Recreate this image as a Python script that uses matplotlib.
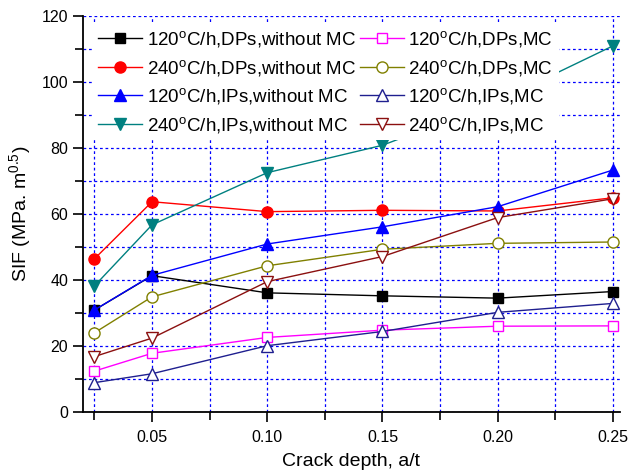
import matplotlib
matplotlib.use("Agg")
import matplotlib.pyplot as plt
from matplotlib.ticker import MultipleLocator

plt.rcParams['font.family'] = ['Liberation Sans', 'DejaVu Sans']
plt.rcParams['mathtext.fontset'] = 'custom'
plt.rcParams['mathtext.rm'] = 'Liberation Sans'
plt.rcParams['mathtext.it'] = 'Liberation Sans:italic'

# crack depth a/t
depth = [0.025, 0.05, 0.10, 0.15, 0.20, 0.25]

dps_120 = [30.8, 41.2, 36.0, 35.1, 34.4, 36.4]
dps_240 = [46.3, 63.6, 60.6, 61.0, 60.8, 64.8]
ips_120 = [30.8, 41.3, 50.8, 56.0, 62.1, 73.2]
ips_240 = [38.1, 56.6, 72.4, 80.7, 94.0, 110.8]
dps_120_mc = [12.3, 17.7, 22.5, 24.7, 25.9, 26.0]
dps_240_mc = [23.9, 34.8, 44.2, 49.2, 51.0, 51.4]
ips_120_mc = [8.8, 11.5, 20.0, 24.3, 30.1, 32.8]
ips_240_mc = [16.7, 22.3, 39.4, 47.0, 58.8, 64.5]

labels = ["120$^{\\rm o}$C/h,DPs,without MC",
          "240$^{\\rm o}$C/h,DPs,without MC",
          "120$^{\\rm o}$C/h,IPs,without MC",
          "240$^{\\rm o}$C/h,IPs,without MC",
          "120$^{\\rm o}$C/h,DPs,MC",
          "240$^{\\rm o}$C/h,DPs,MC",
          "120$^{\\rm o}$C/h,IPs,MC",
          "240$^{\\rm o}$C/h,IPs,MC"]

fig = plt.figure(figsize=(6.28, 4.70), dpi=100)
ax = fig.add_axes([0.132, 0.124, 0.855, 0.843])

ax.plot(depth, dps_120, '-s', color='black', lw=1, ms=7, label=labels[0])
ax.plot(depth, dps_240, '-o', color='red', lw=1, ms=8, label=labels[1])
ax.plot(depth, ips_120, '-^', color='blue', lw=1, ms=8, label=labels[2])
ax.plot(depth, ips_240, '-v', color='#008080', lw=1, ms=8, label=labels[3])
ax.plot(depth, dps_120_mc, '-s', color='#ff00ff', mfc='white', lw=1, ms=7, label=labels[4])
ax.plot(depth, dps_240_mc, '-o', color='#808000', mfc='white', lw=1, ms=8, label=labels[5])
ax.plot(depth, ips_120_mc, '-^', color='#1f1f8f', mfc='white', lw=1, ms=8, label=labels[6])
ax.plot(depth, ips_240_mc, '-v', color='#8b1010', mfc='white', lw=1, ms=8, label=labels[7])

ax.set_xlim(0.02, 0.253)
ax.set_ylim(0, 120)
ax.xaxis.set_major_locator(MultipleLocator(0.05))
ax.xaxis.set_minor_locator(MultipleLocator(0.025))
ax.yaxis.set_major_locator(MultipleLocator(20))
ax.yaxis.set_minor_locator(MultipleLocator(10))
ax.set_xticks([0.05, 0.10, 0.15, 0.20, 0.25])
ax.set_xticklabels(["0.05", "0.10", "0.15", "0.20", "0.25"])

ax.grid(True, which='both', color='blue', linestyle=(0, (2.2, 2.2)), lw=0.9)
ax.set_axisbelow(True)
for s in ['top', 'right']:
    ax.spines[s].set_visible(False)
for s in ['left', 'bottom']:
    ax.spines[s].set_linewidth(1.3)
ax.tick_params(which='both', direction='out', width=1.2, labelsize=11.5)
ax.tick_params(which='major', length=7)
ax.tick_params(which='minor', length=6)
ax.tick_params(axis='x', pad=6)

ax.set_xlabel("Crack depth, a/t", fontsize=14, labelpad=6)
ax.set_ylabel("SIF (MPa. m$^{0.5}$)", fontsize=14, labelpad=6)

ax.legend(loc='upper left', bbox_to_anchor=(0.0, 1.003), ncol=2, fontsize=13.5,
          frameon=True, facecolor='white', edgecolor='none', framealpha=1,
          fancybox=False, handlelength=2.35, handletextpad=0.25,
          columnspacing=0.2, labelspacing=0.45, borderpad=0.3)

fig.savefig("out.png", dpi=100)
